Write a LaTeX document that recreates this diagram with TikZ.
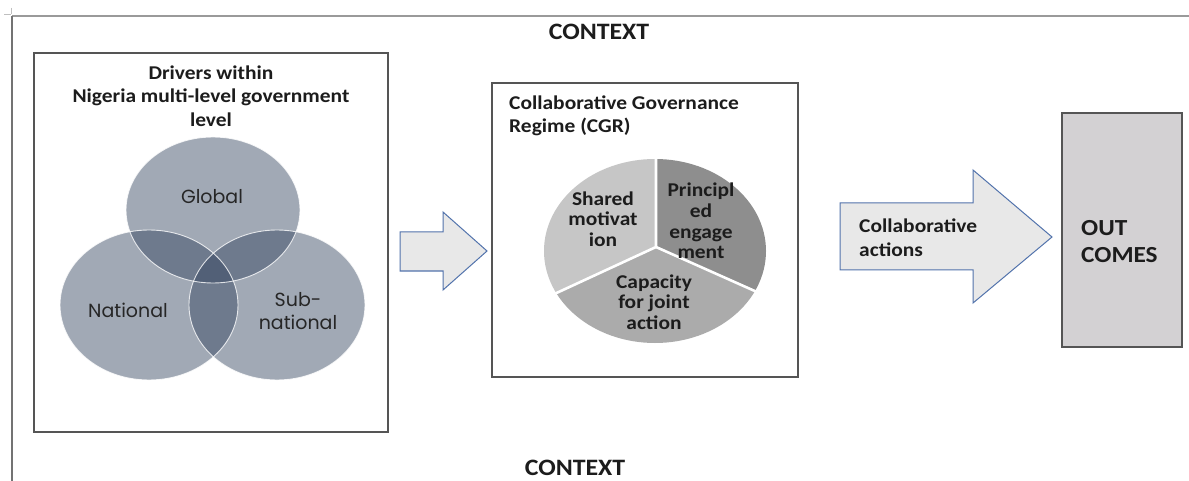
\documentclass[tikz,border=0pt]{standalone}
\usepackage{fontspec}
\setmainfont{Carlito}[FakeStretch=1.1]
\newfontfamily\vennfont{Poppins}
\definecolor{framegray}{HTML}{9A9A9A}
\definecolor{boxgray}{HTML}{555555}
\definecolor{arrowblue}{HTML}{5273AC}
\definecolor{arrowfill}{HTML}{E8E8E8}
\definecolor{vennfill}{RGB}{48,66,93}
\definecolor{pieA}{HTML}{C6C6C6}
\definecolor{pieB}{HTML}{8E8E8E}
\definecolor{pieC}{HTML}{ABABAB}
\definecolor{outfill}{HTML}{D3D1D3}
\definecolor{txt}{HTML}{1C1C1C}
\begin{document}
\begin{tikzpicture}[x=1pt,y=-1pt,
  hdr/.style={font=\bfseries\fontsize{23.5}{27}\selectfont, text=txt, inner sep=0pt},
  ttl/.style={font=\bfseries\fontsize{19.5}{23.5}\selectfont, text=txt, inner sep=0pt},
  pietxt/.style={font=\bfseries\fontsize{19.5}{20.7}\selectfont, text=txt, inner sep=0pt, align=center},
  venntxt/.style={font=\vennfont\fontsize{19}{23}\selectfont, text=black!85, inner sep=0pt, align=center},
  boxnode/.style={draw=boxgray, line width=1.6pt, inner sep=0pt},
  blockarrow/.style={draw=arrowblue, fill=arrowfill, line width=1pt, line join=miter},
  vennc/.style={fill=vennfill, fill opacity=0.45},
  vennedge/.style={draw=white, line width=0.9pt, opacity=0.8}
]
\useasboundingbox (0,0) rectangle (1189,481);
\fill[white] (0,0) rectangle (1189,481);

% outer frame
\coordinate (ftl) at (12,16);
\coordinate (ftr) at (1189,16);
\coordinate (fbl) at (12,481);
\draw[framegray, line width=2.6pt] (ftr) -- (ftl);
\draw[gray!90!black, line width=2pt] (ftl) -- (fbl);
\draw[gray!50, line width=0.6pt] (4,14) -- (11,14) (11,8) -- (11,14);

% context labels
\node[hdr] (ctxtop) at (599,32) {CONTEXT};
\node[hdr] (ctxbot) at (575,468) {CONTEXT};

% left box
\node[boxnode, minimum width=354pt, minimum height=379pt] (drv) at (211,242.5) {};
\node[ttl, align=center] (drvt) at (211,96) {Drivers within\\Nigeria multi-level government\\level};

% venn
\fill[vennc] (213,210) ellipse [x radius=87pt, y radius=73pt];
\fill[vennc] (149,305) ellipse [x radius=89pt, y radius=75pt];
\fill[vennc] (277,305) ellipse [x radius=88pt, y radius=75pt];
\draw[vennedge] (213,210) ellipse [x radius=87pt, y radius=73pt];
\draw[vennedge] (149,305) ellipse [x radius=89pt, y radius=75pt];
\draw[vennedge] (277,305) ellipse [x radius=88pt, y radius=75pt];
\node[venntxt] (glob) at (212,197) {Global};
\node[venntxt] (nat) at (128,310) {National};
\node[venntxt] (sub) at (298,311.5) {Sub-\\national};

% arrow 1
\draw[blockarrow] (400,232) -- (443,232) -- (443,212) -- (487,251) -- (443,290) -- (443,271) -- (400,271) -- cycle;

% CGR box
\node[boxnode, minimum width=306pt, minimum height=294pt] (cgr) at (645,230) {};
\node[ttl, align=left, anchor=west] (cgrt) at (509,116) {Collaborative Governance\\Regime (CGR)};

% pie
\coordinate (S) at (656,247);
\begin{scope}
  \clip (S) -- (656,140) -- (470,140) -- (377,376) -- cycle;
  \fill[pieA] (655,251) ellipse [x radius=111pt, y radius=92pt];
\end{scope}
\begin{scope}
  \clip (S) -- (656,140) -- (960,140) -- (959,382) -- cycle;
  \fill[pieB] (655,251) ellipse [x radius=111pt, y radius=92pt];
\end{scope}
\begin{scope}
  \clip (S) -- (959,382) -- (959,420) -- (377,420) -- (377,376) -- cycle;
  \fill[pieC] (655,251) ellipse [x radius=111pt, y radius=92pt];
\end{scope}
\begin{scope}
  \clip (655,251) ellipse [x radius=112pt, y radius=93pt];
  \draw[white, line width=2.6pt] (656,140) -- (S) -- (377,376) (S) -- (959,382);
\end{scope}
\node[pietxt] (shm) at (603,219) {Shared\\motivat\\ion};
\node[pietxt] (pre) at (701,221) {Principl\\ed\\engage\\ment};
\node[pietxt] (cja) at (654,302) {Capacity\\for joint\\action};

% arrow 2
\draw[blockarrow] (840,203) -- (973,203) -- (973,170) -- (1052,237) -- (973,303) -- (973,270) -- (840,270) -- cycle;
\node[ttl, align=left, anchor=west] (cact) at (859,237.5) {Collaborative\\actions};

% outcomes
\node[boxnode, fill=outfill, minimum width=120pt, minimum height=234pt] (out) at (1122,230) {};
\node[hdr, font=\bfseries\fontsize{23}{27}\selectfont, align=left, anchor=west] (outt) at (1081,241.5) {OUT\\COMES};
\end{tikzpicture}
\end{document}
